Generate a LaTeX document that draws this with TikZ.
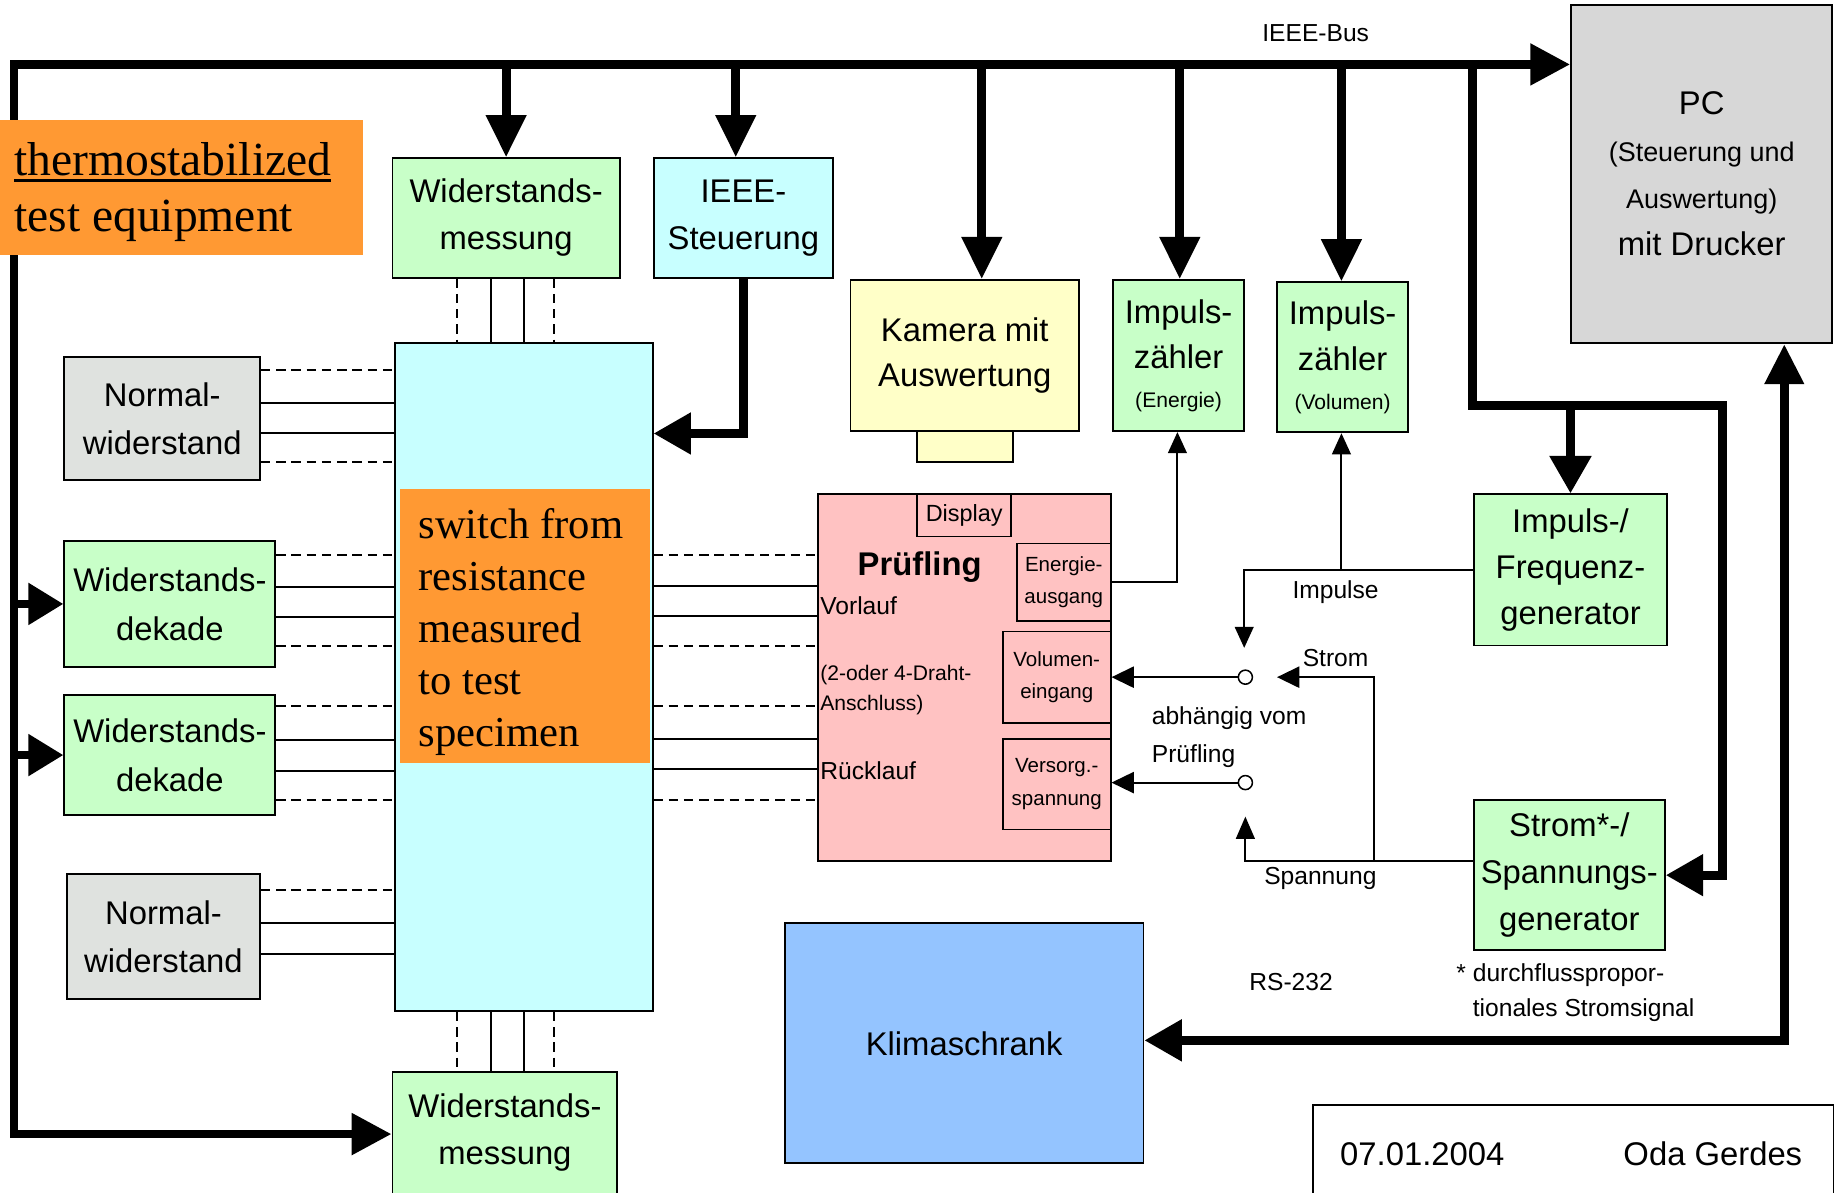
\documentclass[tikz,border=0pt]{standalone}
\usepackage{fontspec}
\setmainfont{Liberation Sans}
\newfontfamily\serifface{Liberation Serif}
\usetikzlibrary{arrows.meta}

\definecolor{boxgreen}{RGB}{200,255,200}
\definecolor{boxcyan}{RGB}{200,255,255}
\definecolor{boxyellow}{RGB}{255,255,200}
\definecolor{boxgray}{RGB}{215,215,215}
\definecolor{boxgraylt}{RGB}{223,226,223}
\definecolor{boxpink}{RGB}{255,194,194}
\definecolor{boxblue}{RGB}{148,196,255}
\definecolor{noteorange}{RGB}{255,153,51}

% thick underline for the heading word
\newcommand\thickul[1]{\setbox0\hbox{#1}\rlap{\rule[-5.5pt]{\wd0}{2.8pt}}\box0}

\tikzset{
  blk/.style={draw=black,line width=1.6pt,inner sep=0pt,align=center,font=\fontsize{28}{40}\selectfont},
  subblk/.style={draw=black,line width=1.5pt,inner sep=0pt,align=center,font=\fontsize{17.5}{28}\selectfont},
  bus/.style={line width=7.5pt,line join=miter},
  wire/.style={line width=1.7pt},
  dashline/.style={line width=1.7pt,dash pattern=on 8pt off 5pt},
  bigtip/.tip={Triangle[length=34pt,width=34pt]},
  smalltip/.tip={Triangle[length=18pt,width=16pt]},
  lbl/.style={inner sep=0pt,font=\fontsize{21}{32}\selectfont},
}

\begin{document}
\begin{tikzpicture}[x=1pt,y=-1pt]
\useasboundingbox (0,0) rectangle (1568,1018);
\clip (0,0) rectangle (1568,1018);

% ---------- blocks ----------
\node[blk,fill=boxgreen,minimum width=194,minimum height=102] (Wm1) at (432,186) {Widerstands-\\messung};
\node[blk,fill=boxcyan,minimum width=153,minimum height=102] (IEEE) at (634.5,186) {IEEE-\\Steuerung};
\node[blk,fill=boxcyan,minimum width=220,minimum height=570] (SW) at (447,578) {};
\node[fill=noteorange,inner sep=0pt,minimum width=214,minimum height=234] (swnote) at (448,534) {};
\node[anchor=north west,inner sep=0pt,align=left,font=\serifface\fontsize{36.4}{44.4}\selectfont] (swtext) at (357,433.5) {switch from\\resistance\\measured\\to test\\specimen};

\node[blk,fill=boxgraylt,minimum width=167,minimum height=105,font=\fontsize{28}{41}\selectfont] (NW1) at (138.5,357.5) {Normal-\\widerstand};
\node[blk,fill=boxgreen,minimum width=180,minimum height=107,font=\fontsize{28}{42}\selectfont] (DK1) at (145,515.5) {Widerstands-\\dekade};
\node[blk,fill=boxgreen,minimum width=180,minimum height=103,font=\fontsize{28}{42}\selectfont] (DK2) at (145,644.5) {Widerstands-\\dekade};
\node[blk,fill=boxgraylt,minimum width=165,minimum height=107,font=\fontsize{28}{41}\selectfont] (NW2) at (139.5,799.5) {Normal-\\widerstand};
\node[blk,fill=boxgreen,minimum width=192,minimum height=104] (Wm2) at (431,967) {Widerstands-\\messung};

\node[blk,fill=boxyellow,minimum width=195,minimum height=129,font=\fontsize{28}{39}\selectfont] (KAM) at (823.5,303.5) {Kamera mit\\Auswertung};
\node[blk,fill=boxyellow,minimum width=82,minimum height=26] (KAMst) at (824,381) {};
\node[blk,fill=boxgreen,minimum width=112,minimum height=129,font=\fontsize{28}{39}\selectfont] (IZE) at (1006,303.5) {Impuls-\\zähler\\[-6pt]{\fontsize{18}{39}\selectfont(Energie)}};
\node[blk,fill=boxgreen,minimum width=112,minimum height=128,font=\fontsize{28}{39}\selectfont] (IZV) at (1146,305) {Impuls-\\zähler\\[-6pt]{\fontsize{18}{39}\selectfont(Volumen)}};
\node[blk,fill=boxgray,minimum width=223,minimum height=289] (PC) at (1452.5,148.5) {PC\\{\fontsize{23}{40}\selectfont(Steuerung und}\\{\fontsize{23}{40}\selectfont Auswertung)}\\mit Drucker};
\node[blk,fill=boxgreen,minimum width=165,minimum height=129,font=\fontsize{28}{39}\selectfont] (FG) at (1340.5,486.5) {Impuls-/\\Frequenz-\\generator};
\node[blk,fill=boxgreen,minimum width=163,minimum height=128] (SG) at (1339.5,747) {Strom*-/\\Spannungs-\\generator};
\node[blk,fill=boxblue,minimum width=306,minimum height=205] (KL) at (823,890.5) {Klimaschrank};

% device under test with its ports
\node[blk,fill=boxpink,minimum width=250,minimum height=313] (PR) at (823,578.5) {};
\node[subblk,minimum width=80,minimum height=36,font=\fontsize{20}{24}\selectfont] (DISP) at (823,440) {Display};
\node[subblk,minimum width=80,minimum height=66] (EA) at (908,497) {Energie-\\ausgang};
\node[subblk,minimum width=92,minimum height=78] (VE) at (902,578) {Volumen-\\eingang};
\node[subblk,minimum width=92,minimum height=77] (VS) at (902,669.5) {Versorg.-\\spannung};
\node[inner sep=0pt,font=\bfseries\fontsize{28}{30}\selectfont] (prtitle) at (785,484) {Prüfling};
\node[lbl,anchor=west] (vorl) at (700,517) {Vorlauf};
\node[inner sep=0pt,anchor=west,align=left,font=\fontsize{18}{26}\selectfont] (draht) at (700,589) {(2-oder 4-Draht-\\Anschluss)};
\node[lbl,anchor=west] (rueckl) at (700,658) {Rücklauf};

% ---------- IEEE bus ----------
\coordinate (busL) at (12,55);
\coordinate (botL) at (12,968);
\draw[bus,{bigtip}-{bigtip}] (botL -| Wm2.west) -- (botL) -- (busL) -- (busL -| PC.west);
\draw[bus,-{Triangle[length=30pt,width=34pt]}] (DK1.west -| busL) -- (DK1.west);
\draw[bus,-{Triangle[length=30pt,width=34pt]}] (DK2.west -| busL) -- (DK2.west);

\foreach \tx/\dst in {432/Wm1,628/IEEE,838/KAM,1007/IZE,1145/IZV}
  \draw[bus,-{Triangle[length=36pt,width=33pt]}] (\tx,55) -- (\dst.north -| \tx,0);

\draw[bus,-{Triangle[length=32pt,width=34pt]}] (IEEE.south) -- (IEEE.south |- 0,370) -- (SW.east |- 0,370);

\coordinate (brA) at (1257,346);
\coordinate (brB) at (1470,346);
\draw[bus,-{Triangle[length=32pt,width=34pt]}] (1257,55) -- (brA) -- (brB) -- (brB |- SG.east) -- (SG.east);
\draw[bus,-{Triangle[length=32pt,width=34pt]}] (FG.north |- brA) -- (FG.north);

% RS-232 link between PC and climate chamber
\coordinate (rsR) at (1523,888);
\draw[bus,{Triangle[length=32pt,width=34pt]}-{Triangle[length=34pt,width=32pt]}] (rsR -| KL.east) -- (rsR) -- (rsR |- PC.south);

% ---------- heading box ----------
\node[fill=noteorange,inner sep=0pt,minimum width=310,minimum height=116] (thermo) at (155,160) {};
\node[anchor=base west,inner sep=0pt,font=\serifface\fontsize{40.6}{48}\selectfont] (thermoA) at (12,150) {\thickul{thermostabilized}};
\node[anchor=base west,inner sep=0pt,font=\serifface\fontsize{40.6}{48}\selectfont] (thermoB) at (12,198) {test equipment};

% ---------- wiring to the switch ----------
\foreach \y/\st in {316/dashline,344/wire,370/wire,394/dashline}
  \draw[\st] (NW1.east |- 0,\y) -- (SW.west |- 0,\y);
\foreach \y/\st in {474/dashline,501/wire,527/wire,551/dashline}
  \draw[\st] (DK1.east |- 0,\y) -- (SW.west |- 0,\y);
\foreach \y/\st in {603/dashline,632/wire,658/wire,683/dashline}
  \draw[\st] (DK2.east |- 0,\y) -- (SW.west |- 0,\y);
\foreach \y/\st in {760/dashline,788/wire,814/wire}
  \draw[\st] (NW2.east |- 0,\y) -- (SW.west |- 0,\y);
\foreach \y/\st in {474/dashline,500/wire,526/wire,551/dashline,603/dashline,631/wire,656/wire,683/dashline}
  \draw[\st] (SW.east |- 0,\y) -- (PR.west |- 0,\y);
\foreach \x/\st in {390/dashline,419/wire,447/wire,473/dashline} {
  \draw[\st] (Wm1.south -| \x,0) -- (SW.north -| \x,0);
  \draw[\st] (SW.south -| \x,0) -- (Wm2.north -| \x,0);
}

% ---------- signal lines ----------
\draw[wire,-{smalltip}] (EA.east) -- (EA.east -| 1005,0) -- (IZE.south -| 1005,0);
\coordinate (impJ) at (1145,486.5);
\coordinate (impT) at (1062,553);
\draw[wire,-{smalltip}] (FG.west) -- (FG.west -| impT) -- (impT);
\draw[wire,-{smalltip}] (impJ) -- (IZV.south -| impJ);

\node[circle,draw,line width=1.3pt,fill=white,inner sep=0pt,minimum size=12pt] (c1) at (1063,578) {};
\node[circle,draw,line width=1.3pt,fill=white,inner sep=0pt,minimum size=12pt] (c2) at (1063,668) {};
\draw[wire,-{Triangle[length=19pt,width=18pt]}] (c1.west) -- (c1.west -| VE.east);
\draw[wire,-{Triangle[length=19pt,width=18pt]}] (c2.west) -- (c2.west -| VS.east);

\coordinate (sJ) at (1173,735);
\coordinate (stromT) at (1090,578);
\coordinate (spT) at (1063,697);
\draw[wire,-{Triangle[length=19pt,width=18pt]}] (SG.west |- sJ) -- (sJ) -- (sJ |- stromT) -- (stromT);
\draw[wire,-{Triangle[length=19pt,width=16pt]}] (sJ) -- (sJ -| spT) -- (spT);

% ---------- labels ----------
\node[lbl] (lbus) at (1123,28) {IEEE-Bus};
\node[lbl] (limp) at (1140,505) {Impulse};
\node[lbl] (lstrom) at (1140,562) {Strom};
\node[lbl] (lspann) at (1127,750) {Spannung};
\node[lbl,anchor=west,align=left] (labh) at (983,629) {abhängig vom\\Prüfling};
\node[lbl] (lrs) at (1102,838) {RS-232};
\node[lbl,anchor=west,align=left,font=\fontsize{21}{30}\selectfont] (lfoot) at (1243,847) {* durchflusspropor-\\\hphantom{* }tionales Stromsignal};

% ---------- title block ----------
\node[draw,line width=1.6pt,inner sep=0pt,minimum width=444,minimum height=130] (datebox) at (1343,1008) {};
\node[inner sep=0pt,font=\fontsize{28}{30}\selectfont] (ldate) at (1214,985) {07.01.2004};
\node[inner sep=0pt,font=\fontsize{28}{30}\selectfont] (lauth) at (1462,985) {Oda Gerdes};
\end{tikzpicture}
\end{document}
